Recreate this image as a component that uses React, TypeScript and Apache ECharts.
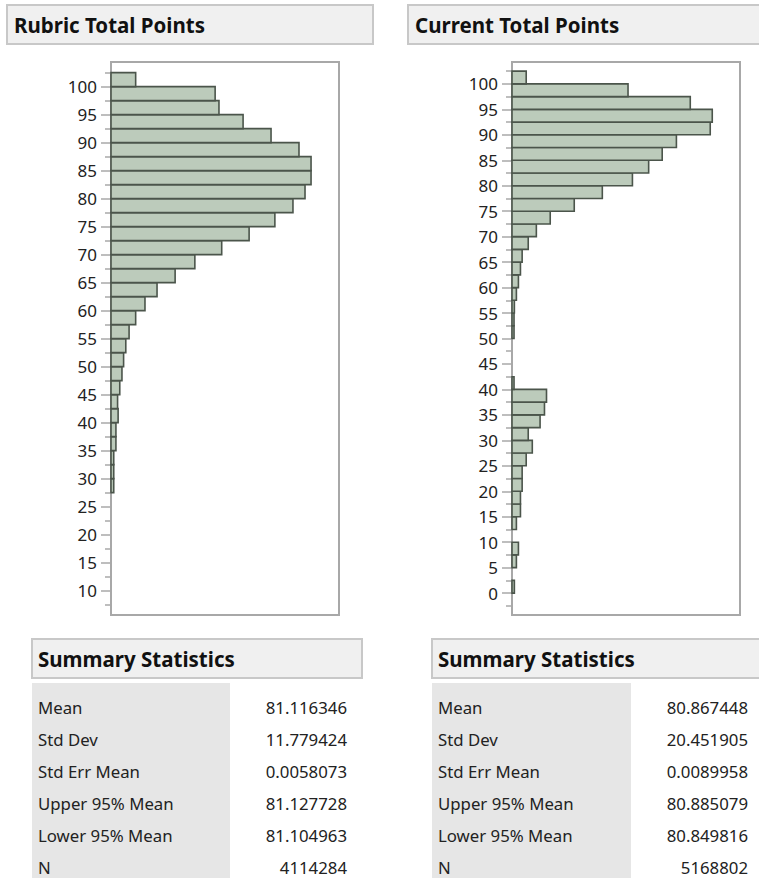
import React, { useEffect, useRef } from "react";
import * as echarts from "echarts";

// ---------- data ----------
const BIN_WIDTH = 2.5;

const rubricBinStarts = [
  27.5, 30, 32.5, 35, 37.5, 40, 42.5, 45, 47.5, 50, 52.5, 55, 57.5, 60, 62.5,
  65, 67.5, 70, 72.5, 75, 77.5, 80, 82.5, 85, 87.5, 90, 92.5, 95, 97.5, 100,
];
// counts in thousands
const rubricCounts = [
  5, 5, 5, 9, 9, 13, 12, 16, 20, 23, 27, 33, 45, 62, 84,
  117, 153, 202, 252, 299, 332, 354, 365, 365, 343, 292, 241, 197, 190, 45,
];

const currentBinStarts = [
  0, 2.5, 5, 7.5, 10, 12.5, 15, 17.5, 20, 22.5, 25, 27.5, 30, 32.5, 35, 37.5,
  40, 42.5, 45, 47.5, 50, 52.5, 55, 57.5, 60, 62.5, 65, 67.5, 70, 72.5, 75,
  77.5, 80, 82.5, 85, 87.5, 90, 92.5, 95, 97.5, 100,
];
const currentCounts = [
  7, 0, 13, 19, 0, 13, 25, 25, 30, 30, 42, 60, 48, 83, 96, 102,
  6, 0, 0, 0, 6, 6, 7, 13, 19, 25, 30, 48, 72, 113, 184,
  267, 356, 404, 444, 486, 586, 592, 527, 343, 42,
];

const rubricTickLabels = [10, 15, 20, 25, 30, 35, 40, 45, 50, 55, 60, 65, 70, 75, 80, 85, 90, 95, 100];
const rubricMinorTicks = [7.5, 12.5, 17.5, 22.5, 27.5, 32.5, 37.5, 42.5, 47.5, 52.5, 57.5, 62.5, 67.5, 72.5, 77.5, 82.5, 87.5, 92.5, 97.5, 102.5];
const currentTickLabels = [0, 5, 10, 15, 20, 25, 30, 35, 40, 45, 50, 55, 60, 65, 70, 75, 80, 85, 90, 95, 100];
const currentMinorTicks = [-2.5, 2.5, 7.5, 12.5, 17.5, 22.5, 27.5, 32.5, 37.5, 42.5, 47.5, 52.5, 57.5, 62.5, 67.5, 72.5, 77.5, 82.5, 87.5, 92.5, 97.5, 102.5];

const statLabels = ["Mean", "Std Dev", "Std Err Mean", "Upper 95% Mean", "Lower 95% Mean", "N"];
const rubricStats = ["81.116346", "11.779424", "0.0058073", "81.127728", "81.104963", "4114284"];
const currentStats = ["80.867448", "20.451905", "0.0089958", "80.885079", "80.849816", "5168802"];

const titles = ["Rubric Total Points", "Current Total Points"];
const summaryTitle = "Summary Statistics";

// ---------- styles ----------
const FONT = "'Noto Sans', 'Open Sans', sans-serif";
const BAR_FILL = "#bccbbb";
const BAR_STROKE = "#4b554b";
const FRAME = "#a8a8a8";
const TITLE_FONT = `bold 20.5px ${FONT}`;
const TABLE_FONT = `16.8px ${FONT}`;

function histData(starts: number[], counts: number[]) {
  return starts.map((s, i) => [s, s + BIN_WIDTH, counts[i]]);
}

function renderBar(params: any, api: any) {
  const lo = api.value(0);
  const hi = api.value(1);
  const v = api.value(2);
  if (!v) return null;
  const p0 = api.coord([0, hi]);
  const p1 = api.coord([v, lo]);
  return {
    type: "rect",
    shape: { x: p0[0], y: p0[1], width: p1[0] - p0[0], height: p1[1] - p0[1] },
    style: { fill: BAR_FILL, stroke: BAR_STROKE, lineWidth: 1.6 },
  };
}

function yAxes(gridIndex: number, min: number, max: number, labels: number[], minors: number[]) {
  return [
    {
      type: "value",
      gridIndex,
      position: "left",
      min,
      max,
      axisLine: { show: true, lineStyle: { color: FRAME, width: 2 } },
      axisTick: { show: true, customValues: labels, length: 10, lineStyle: { color: FRAME, width: 1.5 } },
      axisLabel: { customValues: labels, fontSize: 17, color: "#222", fontFamily: FONT, margin: 14 },
      splitLine: { show: false },
    },
    {
      type: "value",
      gridIndex,
      position: "left",
      min,
      max,
      axisLine: { show: false },
      axisTick: { show: true, customValues: minors, length: 6, lineStyle: { color: FRAME, width: 1.5 } },
      axisLabel: { show: false },
      splitLine: { show: false },
    },
  ];
}

function statsGraphics(x0: number, boxRight: number, colRight: number) {
  const els: any[] = [];
  els.push({
    type: "rect",
    shape: { x: x0, y: 639, width: boxRight - x0, height: 39 },
    style: { fill: "#f0f0f0", stroke: "#c8c8c8", lineWidth: 2 },
  });
  els.push({
    type: "text",
    x: x0 + 6,
    y: 659,
    style: { text: summaryTitle, font: TITLE_FONT, fill: "#111", verticalAlign: "middle", align: "left" },
  });
  els.push({
    type: "rect",
    shape: { x: x0, y: 683, width: colRight - x0, height: 200 },
    style: { fill: "#e6e6e6" },
  });
  statLabels.forEach((lab, i) => {
    els.push({
      type: "text",
      x: x0 + 6,
      y: 707 + i * 32,
      style: { text: lab, font: TABLE_FONT, fill: "#222", verticalAlign: "middle", align: "left" },
    });
  });
  return els;
}

export default function App() {
  const ref = useRef<HTMLDivElement>(null);
  useEffect(() => {
    if (!ref.current) return;
    const chart = echarts.init(ref.current, undefined, { renderer: "svg" });

    const graphics: any[] = [
      {
        type: "rect",
        shape: { x: 7, y: 5, width: 366, height: 39 },
        style: { fill: "#f0f0f0", stroke: "#c8c8c8", lineWidth: 2 },
      },
      {
        type: "text",
        x: 14,
        y: 25,
        style: { text: titles[0], font: TITLE_FONT, fill: "#111", verticalAlign: "middle", align: "left" },
      },
      {
        type: "rect",
        shape: { x: 408, y: 5, width: 360, height: 39 },
        style: { fill: "#f0f0f0", stroke: "#c8c8c8", lineWidth: 2 },
      },
      {
        type: "text",
        x: 415,
        y: 25,
        style: { text: titles[1], font: TITLE_FONT, fill: "#111", verticalAlign: "middle", align: "left" },
      },
      ...statsGraphics(32, 362, 230),
      ...statsGraphics(432, 770, 631),
    ];
    rubricStats.forEach((v, i) => {
      graphics.push({
        type: "text",
        x: 347,
        y: 707 + i * 32,
        style: { text: v, font: TABLE_FONT, fill: "#222", verticalAlign: "middle", align: "right" },
      });
    });
    currentStats.forEach((v, i) => {
      graphics.push({
        type: "text",
        x: 748,
        y: 707 + i * 32,
        style: { text: v, font: TABLE_FONT, fill: "#222", verticalAlign: "middle", align: "right" },
      });
    });

    chart.setOption({
      animation: false,
      backgroundColor: "#ffffff",
      grid: [
        { left: 111, top: 62, width: 228, height: 553, show: true, borderColor: FRAME, borderWidth: 2, backgroundColor: "#fff" },
        { left: 512, top: 62, width: 228, height: 553, show: true, borderColor: FRAME, borderWidth: 2, backgroundColor: "#fff" },
      ],
      xAxis: [
        { type: "value", gridIndex: 0, min: 0, max: 416, show: false },
        { type: "value", gridIndex: 1, min: 0, max: 674, show: false },
      ],
      yAxis: [
        ...yAxes(0, 5.65, 104.4, rubricTickLabels, rubricMinorTicks),
        ...yAxes(1, -4.3, 104.3, currentTickLabels, currentMinorTicks),
      ],
      series: [
        {
          type: "custom",
          xAxisIndex: 0,
          yAxisIndex: 0,
          renderItem: renderBar,
          encode: { x: 2, y: [0, 1] },
          data: histData(rubricBinStarts, rubricCounts),
          clip: false,
        },
        {
          type: "custom",
          xAxisIndex: 1,
          yAxisIndex: 2,
          renderItem: renderBar,
          encode: { x: 2, y: [0, 1] },
          data: histData(currentBinStarts, currentCounts),
          clip: false,
        },
      ],
      graphic: graphics,
    });
    return () => chart.dispose();
  }, []);

  return (
    <div
      ref={ref}
      style={{ position: "fixed", left: 0, top: 0, width: 759, height: 878, background: "#fff" }}
    />
  );
}
